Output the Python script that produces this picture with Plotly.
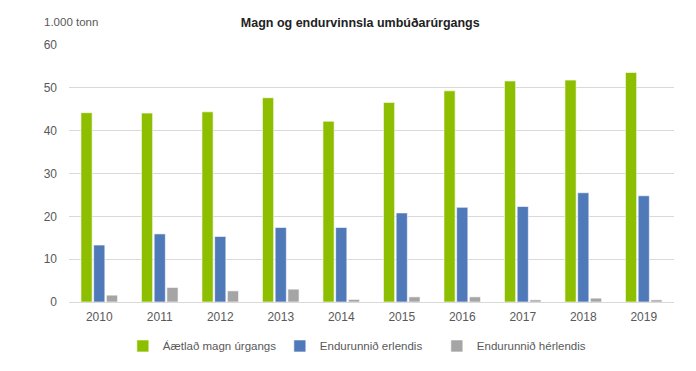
import plotly.graph_objects as go

years = ["2010", "2011", "2012", "2013", "2014", "2015", "2016", "2017", "2018", "2019"]
aaetlad = [44.2, 44.1, 44.4, 47.7, 42.2, 46.6, 49.3, 51.6, 51.8, 53.6]
erlendis = [13.3, 15.9, 15.3, 17.4, 17.4, 20.8, 22.1, 22.3, 25.5, 24.8]
herlendis = [1.6, 3.4, 2.6, 3.0, 0.6, 1.2, 1.2, 0.5, 0.9, 0.5]
y_ticks = [0, 10, 20, 30, 40, 50, 60]

font_family = "Liberation Sans, Arial, sans-serif"

fig = go.Figure()
fig.add_trace(go.Bar(x=years, y=aaetlad, name="Áætlað magn úrgangs",
                     marker=dict(color="#8DBF00", line=dict(color="white", width=0.6))))
fig.add_trace(go.Bar(x=years, y=erlendis, name="Endurunnið erlendis",
                     marker=dict(color="#4F79B8", line=dict(color="white", width=0.6))))
fig.add_trace(go.Bar(x=years, y=herlendis, name="Endurunnið hérlendis",
                     marker=dict(color="#A5A5A5", line=dict(color="white", width=0.6))))

fig.update_layout(
    width=688, height=363,
    margin=dict(l=61, r=22, t=37, b=69, autoexpand=False),
    paper_bgcolor="white", plot_bgcolor="white",
    barmode="group", bargap=0.37, bargroupgap=0.12,
    font=dict(family=font_family, size=12, color="#595959"),
    title=dict(text="<b>Magn og endurvinnsla umbúðarúrgangs</b>", x=0.512, xanchor="center",
               y=0.961, yanchor="middle", font=dict(size=12.5, color="#222222")),
    legend=dict(orientation="h", x=0.089, xanchor="left", yref="container", y=0.069,
                yanchor="middle", font=dict(size=11.5, color="#595959"),
                itemwidth=30, traceorder="normal", entrywidth=112),
    showlegend=True,
)
fig.update_xaxes(showgrid=False, showline=True, linecolor="#D9D9D9", linewidth=1,
                 ticks="", ticklabelstandoff=4, tickfont=dict(size=12, color="#595959"))
fig.update_yaxes(range=[0, 60], tickvals=y_ticks, showgrid=True, gridcolor="#D9D9D9",
                 gridwidth=1, zeroline=False, ticks="", ticklabelstandoff=11,
                 tickfont=dict(size=12, color="#595959"))
fig.add_annotation(text="1.000 tonn", xref="paper", yref="paper", x=-0.0446, y=1.0,
                   xanchor="left", yanchor="middle", yshift=23, showarrow=False,
                   font=dict(size=11.5, color="#595959"))

fig.write_html("out.html")
